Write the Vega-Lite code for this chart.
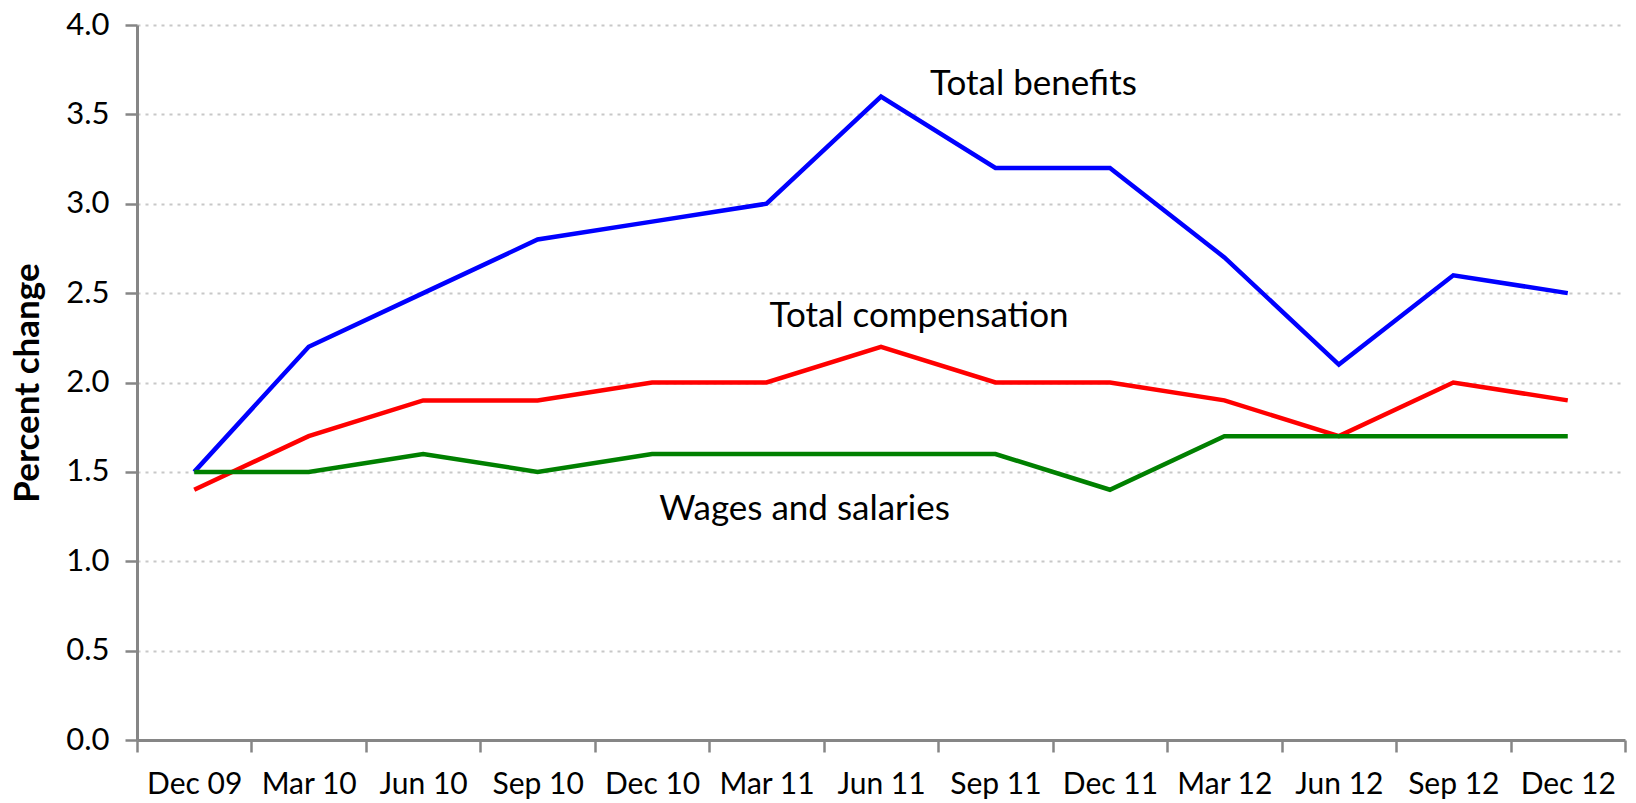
{
  "$schema": "https://vega.github.io/schema/vega-lite/v6.json",
  "autosize": {"type": "none"},
  "width": 1488,
  "height": 715,
  "padding": {"left": 137, "top": 25, "right": 11, "bottom": 63},
  "background": "white",
  "config": {
    "view": {"stroke": null},
    "font": "Lato",
    "axis": {"labelFont": "Lato", "titleFont": "Lato"}
  },
  "datasets": {
    "series": [
      {"quarter": "Dec 09", "series": "Total benefits", "value": 1.5},
      {"quarter": "Mar 10", "series": "Total benefits", "value": 2.2},
      {"quarter": "Jun 10", "series": "Total benefits", "value": 2.5},
      {"quarter": "Sep 10", "series": "Total benefits", "value": 2.8},
      {"quarter": "Dec 10", "series": "Total benefits", "value": 2.9},
      {"quarter": "Mar 11", "series": "Total benefits", "value": 3.0},
      {"quarter": "Jun 11", "series": "Total benefits", "value": 3.6},
      {"quarter": "Sep 11", "series": "Total benefits", "value": 3.2},
      {"quarter": "Dec 11", "series": "Total benefits", "value": 3.2},
      {"quarter": "Mar 12", "series": "Total benefits", "value": 2.7},
      {"quarter": "Jun 12", "series": "Total benefits", "value": 2.1},
      {"quarter": "Sep 12", "series": "Total benefits", "value": 2.6},
      {"quarter": "Dec 12", "series": "Total benefits", "value": 2.5},
      {"quarter": "Dec 09", "series": "Total compensation", "value": 1.4},
      {"quarter": "Mar 10", "series": "Total compensation", "value": 1.7},
      {"quarter": "Jun 10", "series": "Total compensation", "value": 1.9},
      {"quarter": "Sep 10", "series": "Total compensation", "value": 1.9},
      {"quarter": "Dec 10", "series": "Total compensation", "value": 2.0},
      {"quarter": "Mar 11", "series": "Total compensation", "value": 2.0},
      {"quarter": "Jun 11", "series": "Total compensation", "value": 2.2},
      {"quarter": "Sep 11", "series": "Total compensation", "value": 2.0},
      {"quarter": "Dec 11", "series": "Total compensation", "value": 2.0},
      {"quarter": "Mar 12", "series": "Total compensation", "value": 1.9},
      {"quarter": "Jun 12", "series": "Total compensation", "value": 1.7},
      {"quarter": "Sep 12", "series": "Total compensation", "value": 2.0},
      {"quarter": "Dec 12", "series": "Total compensation", "value": 1.9},
      {"quarter": "Dec 09", "series": "Wages and salaries", "value": 1.5},
      {"quarter": "Mar 10", "series": "Wages and salaries", "value": 1.5},
      {"quarter": "Jun 10", "series": "Wages and salaries", "value": 1.6},
      {"quarter": "Sep 10", "series": "Wages and salaries", "value": 1.5},
      {"quarter": "Dec 10", "series": "Wages and salaries", "value": 1.6},
      {"quarter": "Mar 11", "series": "Wages and salaries", "value": 1.6},
      {"quarter": "Jun 11", "series": "Wages and salaries", "value": 1.6},
      {"quarter": "Sep 11", "series": "Wages and salaries", "value": 1.6},
      {"quarter": "Dec 11", "series": "Wages and salaries", "value": 1.4},
      {"quarter": "Mar 12", "series": "Wages and salaries", "value": 1.7},
      {"quarter": "Jun 12", "series": "Wages and salaries", "value": 1.7},
      {"quarter": "Sep 12", "series": "Wages and salaries", "value": 1.7},
      {"quarter": "Dec 12", "series": "Wages and salaries", "value": 1.7}
    ],
    "labels": [
      {"quarter": "Sep 11", "value": 3.67, "label": "Total benefits", "series": "Total benefits"},
      {"quarter": "Jun 11", "value": 2.37, "label": "Total compensation", "series": "Total compensation"},
      {"quarter": "Mar 11", "value": 1.29, "label": "Wages and salaries", "series": "Wages and salaries"}
    ]
  },
  "encoding": {
    "x": {
      "field": "quarter",
      "type": "ordinal",
      "sort": null,
      "scale": {"type": "band", "paddingInner": 0, "paddingOuter": 0},
      "bandPosition": 0.5,
      "axis": {
        "title": null,
        "labelAngle": 0,
        "labelFontSize": 30,
        "labelColor": "#000000",
        "labelPadding": 17,
        "tickBand": "extent",
        "tickSize": 12,
        "tickWidth": 2.5,
        "tickColor": "#868686",
        "domainColor": "#868686",
        "domainWidth": 3,
        "grid": false
      }
    },
    "y": {
      "field": "value",
      "type": "quantitative",
      "scale": {"domain": [0, 4], "nice": false},
      "axis": {
        "title": "Percent change",
        "titleFontSize": 35,
        "titleFontWeight": "bold",
        "titleColor": "#000000",
        "titlePadding": 20,
        "values": [0, 0.5, 1, 1.5, 2, 2.5, 3, 3.5, 4],
        "format": ".1f",
        "labelFontSize": 31,
        "labelColor": "#000000",
        "labelPadding": 16,
        "tickSize": 12,
        "tickWidth": 2.5,
        "tickColor": "#868686",
        "domainColor": "#868686",
        "domainWidth": 3,
        "grid": true,
        "gridColor": "#C8C8C8",
        "gridWidth": 2,
        "gridDash": [3, 5]
      }
    },
    "color": {
      "field": "series",
      "type": "nominal",
      "scale": {
        "domain": ["Total benefits", "Total compensation", "Wages and salaries"],
        "range": ["#0000FF", "#FF0000", "#008000"]
      },
      "legend": null
    }
  },
  "layer": [
    {
      "data": {"name": "series"},
      "mark": {"type": "line", "strokeWidth": 4.5, "strokeJoin": "miter"}
    },
    {
      "data": {"name": "labels"},
      "mark": {"type": "text", "fontSize": 35, "align": "center", "baseline": "middle", "dx": 38},
      "encoding": {
        "text": {"field": "label"},
        "color": {"value": "#000000"}
      }
    }
  ]
}
